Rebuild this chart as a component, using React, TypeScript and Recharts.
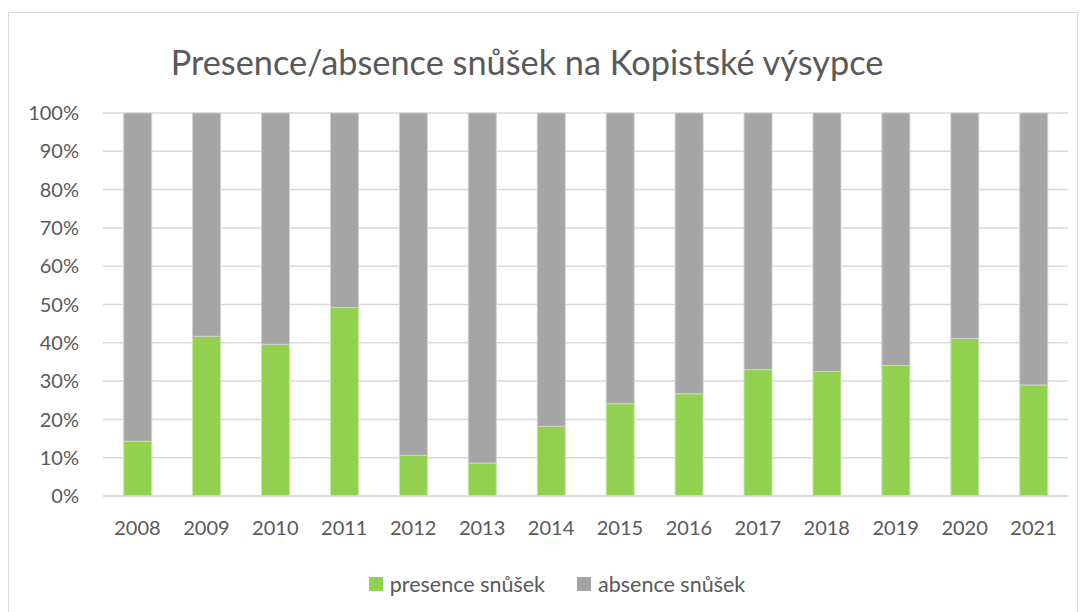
import React from 'react';
import { BarChart, Bar, XAxis, YAxis, CartesianGrid, Legend } from 'recharts';

const years = ['2008', '2009', '2010', '2011', '2012', '2013', '2014', '2015', '2016', '2017', '2018', '2019', '2020', '2021'];
const presence = [14.3, 41.7, 39.6, 49.2, 10.6, 8.6, 18.2, 24.1, 26.7, 33.0, 32.5, 34.1, 41.1, 29.0];
const absence = [85.7, 58.3, 60.4, 50.8, 89.4, 91.4, 81.8, 75.9, 73.3, 67.0, 67.5, 65.9, 58.9, 71.0];
const yTicks = [0, 10, 20, 30, 40, 50, 60, 70, 80, 90, 100];
const seriesKeys = ['presence', 'absence'];
const seriesNames = { presence: 'presence snůšek', absence: 'absence snůšek' };
const title = 'Presence/absence snůšek na Kopistské výsypce';

const data = years.map((y, i) => ({ year: y, presence: presence[i], absence: absence[i] }));

const FONT = 'Lato, "Open Sans", sans-serif';
const TEXT = '#595959';

const renderLegend = (props: any) => {
  const payload = [...(props.payload || [])].sort(
    (a: any, b: any) => seriesKeys.indexOf(a.dataKey) - seriesKeys.indexOf(b.dataKey)
  );
  return (
    <div style={{ display: 'flex', justifyContent: 'center', alignItems: 'center', fontFamily: FONT, fontSize: 21.5, color: TEXT }}>
      {payload.map((p: any, i: number) => (
        <div key={i} style={{ display: 'flex', alignItems: 'center', marginRight: i === 0 ? 32 : 0 }}>
          <span style={{ display: 'inline-block', width: 14, height: 14, background: p.color, marginRight: 7 }} />
          <span style={{ lineHeight: '22px' }}>{p.value}</span>
        </div>
      ))}
    </div>
  );
};

export default function App() {
  return (
    <div style={{ position: 'relative', width: 1068, height: 604, marginTop: 4, border: '1px solid #d9d9d9', background: '#fff' }}>
      <div style={{ position: 'absolute', top: 33, left: -16, width: 1068, textAlign: 'center', fontFamily: FONT, fontSize: 34.3, lineHeight: '32px', color: TEXT, whiteSpace: 'nowrap' }}>
        {title}
      </div>
      <BarChart
        width={1068}
        height={600}
        data={data}
        margin={{ top: 100, right: 9, left: 34, bottom: 65 }}
        barCategoryGap="30%"
      >
        <CartesianGrid vertical={false} stroke="#d9d9d9" strokeWidth={1.5} />
        <XAxis
          dataKey="year"
          axisLine={{ stroke: '#d9d9d9', strokeWidth: 1.5 }}
          tickLine={false}
          tickSize={0}
          tickMargin={25}
          height={30}
          interval={0}
          tick={{ fill: TEXT, fontSize: 20, fontFamily: FONT }}
        />
        <YAxis
          domain={[0, 100]}
          ticks={yTicks}
          tickFormatter={(v: number) => `${v}%`}
          axisLine={false}
          tickLine={false}
          tickSize={0}
          tickMargin={24}
          width={60}
          interval={0}
          tick={{ fill: TEXT, fontSize: 20, fontFamily: FONT }}
        />
        <Legend
          content={renderLegend}
          wrapperStyle={{ position: 'absolute', top: 560, left: 14, width: 1068 }}
        />
        <Bar dataKey="presence" name={seriesNames.presence} stackId="a" fill="#92D050" stroke="#c8e8a8" strokeWidth={1} isAnimationActive={false} />
        <Bar dataKey="absence" name={seriesNames.absence} stackId="a" fill="#A5A5A5" stroke="#d0d0d0" strokeWidth={1} isAnimationActive={false} />
      </BarChart>
    </div>
  );
}
